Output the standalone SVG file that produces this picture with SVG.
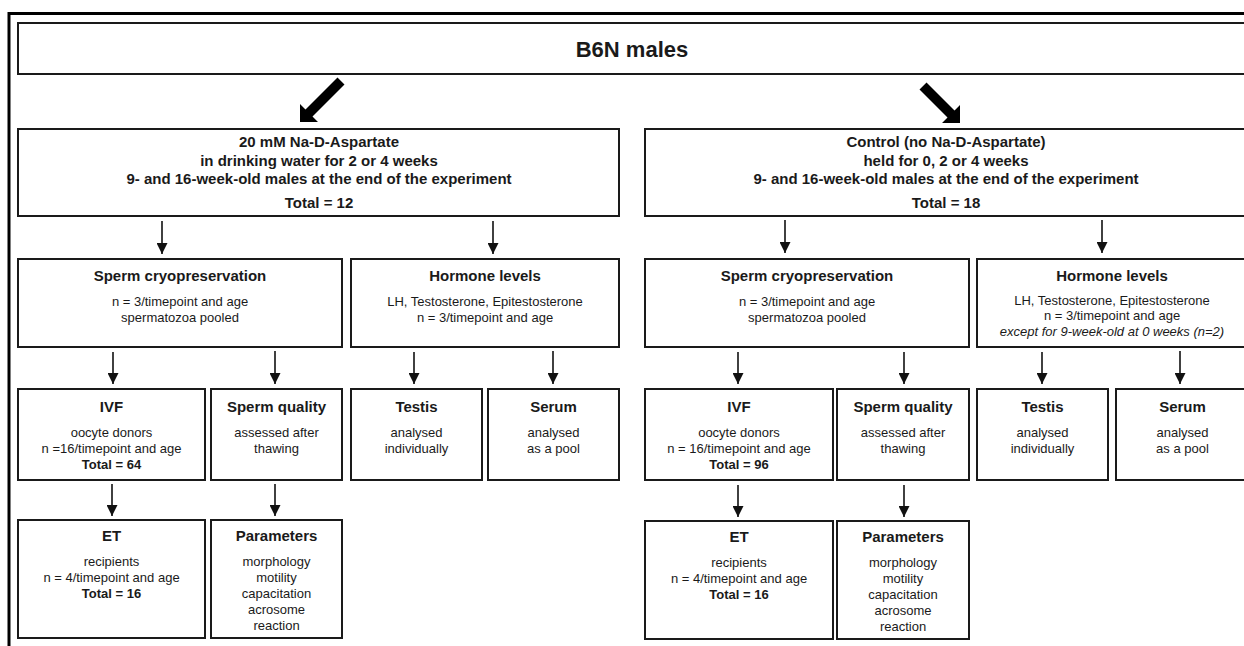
<svg xmlns="http://www.w3.org/2000/svg" width="1244" height="646" viewBox="0 0 1244 646">
<style>
.box{fill:#fff;stroke:#1a1a1a;stroke-width:2}
.t{font-family:"Liberation Sans",Arial,sans-serif;fill:#1a1a1a;text-anchor:middle}
.b15{font-size:15px;font-weight:bold}
.b22{font-size:22px;font-weight:bold}
.r13{font-size:13px}
.b13{font-size:13px;font-weight:bold}
.i13{font-size:13px;font-style:italic}
.con{stroke:#111;stroke-width:1.6;fill:none}
</style>
<defs>
<marker id="ah" markerUnits="userSpaceOnUse" markerWidth="11" markerHeight="11" refX="11" refY="5.5" orient="auto">
<path d="M0,0 L11,5.5 L0,11 z" fill="#111"/>
</marker>
</defs>
<rect width="1244" height="646" fill="#fff"/>
<path d="M9,646 V13.5 H1250" fill="none" stroke="#000" stroke-width="3"/>

<g id="b6n">
<rect class="box" x="18" y="23" width="1240" height="51"/>
<text class="t b22" x="632" y="57">B6N males</text>
</g>

<g id="treat-left">
<rect class="box" x="18" y="129" width="601" height="87"/>
<text class="t b15" x="319" y="147">20 mM Na-D-Aspartate</text>
<text class="t b15" x="319" y="166">in drinking water for 2 or 4 weeks</text>
<text class="t b15" x="319" y="184">9- and 16-week-old males at the end of the experiment</text>
<text class="t b15" x="319" y="208">Total = 12</text>
</g>

<g id="treat-right">
<rect class="box" x="645" y="129" width="610" height="87"/>
<text class="t b15" x="946" y="147">Control (no Na-D-Aspartate)</text>
<text class="t b15" x="946" y="166">held for 0, 2 or 4 weeks</text>
<text class="t b15" x="946" y="184">9- and 16-week-old males at the end of the experiment</text>
<text class="t b15" x="946" y="208">Total = 18</text>
</g>

<g id="cryo-left">
<rect class="box" x="18" y="259" width="324" height="88"/>
<text class="t b15" x="180" y="281">Sperm cryopreservation</text>
<text class="t r13" x="180" y="306">n = 3/timepoint and age</text>
<text class="t r13" x="180" y="322">spermatozoa pooled</text>
</g>

<g id="hormone-left">
<rect class="box" x="351" y="259" width="268" height="88"/>
<text class="t b15" x="485" y="281">Hormone levels</text>
<text class="t r13" x="485" y="306">LH, Testosterone, Epitestosterone</text>
<text class="t r13" x="485" y="322">n = 3/timepoint and age</text>
</g>

<g id="cryo-right">
<rect class="box" x="645" y="259" width="324" height="88"/>
<text class="t b15" x="807" y="281">Sperm cryopreservation</text>
<text class="t r13" x="807" y="306">n = 3/timepoint and age</text>
<text class="t r13" x="807" y="322">spermatozoa pooled</text>
</g>

<g id="hormone-right">
<rect class="box" x="977" y="259" width="280" height="88"/>
<text class="t b15" x="1112" y="281">Hormone levels</text>
<text class="t r13" x="1112" y="305">LH, Testosterone, Epitestosterone</text>
<text class="t r13" x="1112" y="320">n = 3/timepoint and age</text>
<text class="t i13" x="1112" y="336">except for 9-week-old at 0 weeks (n=2)</text>
</g>

<g id="ivf-left">
<rect class="box" x="18" y="389" width="187" height="91"/>
<text class="t b15" x="111.5" y="412">IVF</text>
<text class="t r13" x="111.5" y="437">oocyte donors</text>
<text class="t r13" x="111.5" y="453">n =16/timepoint and age</text>
<text class="t b13" x="111.5" y="469">Total = 64</text>
</g>

<g id="quality-left">
<rect class="box" x="211" y="389" width="131" height="91"/>
<text class="t b15" x="276.5" y="412">Sperm quality</text>
<text class="t r13" x="276.5" y="437">assessed after</text>
<text class="t r13" x="276.5" y="453">thawing</text>
</g>

<g id="testis-left">
<rect class="box" x="351" y="389" width="131" height="91"/>
<text class="t b15" x="416.5" y="412">Testis</text>
<text class="t r13" x="416.5" y="437">analysed</text>
<text class="t r13" x="416.5" y="453">individually</text>
</g>

<g id="serum-left">
<rect class="box" x="488" y="389" width="131" height="91"/>
<text class="t b15" x="553.5" y="412">Serum</text>
<text class="t r13" x="553.5" y="437">analysed</text>
<text class="t r13" x="553.5" y="453">as a pool</text>
</g>

<g id="ivf-right">
<rect class="box" x="645" y="389" width="188" height="91"/>
<text class="t b15" x="739" y="412">IVF</text>
<text class="t r13" x="739" y="437">oocyte donors</text>
<text class="t r13" x="739" y="453">n = 16/timepoint and age</text>
<text class="t b13" x="739" y="469">Total = 96</text>
</g>

<g id="quality-right">
<rect class="box" x="837" y="389" width="132" height="91"/>
<text class="t b15" x="903" y="412">Sperm quality</text>
<text class="t r13" x="903" y="437">assessed after</text>
<text class="t r13" x="903" y="453">thawing</text>
</g>

<g id="testis-right">
<rect class="box" x="977" y="389" width="131" height="91"/>
<text class="t b15" x="1042.5" y="412">Testis</text>
<text class="t r13" x="1042.5" y="437">analysed</text>
<text class="t r13" x="1042.5" y="453">individually</text>
</g>

<g id="serum-right">
<rect class="box" x="1116" y="389" width="140" height="91"/>
<text class="t b15" x="1182.5" y="412">Serum</text>
<text class="t r13" x="1182.5" y="437">analysed</text>
<text class="t r13" x="1182.5" y="453">as a pool</text>
</g>

<g id="et-left">
<rect class="box" x="18" y="520" width="187" height="118"/>
<text class="t b15" x="111.5" y="541">ET</text>
<text class="t r13" x="111.5" y="566">recipients</text>
<text class="t r13" x="111.5" y="582">n = 4/timepoint and age</text>
<text class="t b13" x="111.5" y="598">Total = 16</text>
</g>

<g id="params-left">
<rect class="box" x="211" y="520" width="131" height="118"/>
<text class="t b15" x="276.5" y="541">Parameters</text>
<text class="t r13" x="276.5" y="566">morphology</text>
<text class="t r13" x="276.5" y="582">motility</text>
<text class="t r13" x="276.5" y="598">capacitation</text>
<text class="t r13" x="276.5" y="614">acrosome</text>
<text class="t r13" x="276.5" y="630">reaction</text>
</g>

<g id="et-right">
<rect class="box" x="645" y="521" width="188" height="118"/>
<text class="t b15" x="739" y="542">ET</text>
<text class="t r13" x="739" y="567">recipients</text>
<text class="t r13" x="739" y="583">n = 4/timepoint and age</text>
<text class="t b13" x="739" y="599">Total = 16</text>
</g>

<g id="params-right">
<rect class="box" x="837" y="521" width="132" height="118"/>
<text class="t b15" x="903" y="542">Parameters</text>
<text class="t r13" x="903" y="567">morphology</text>
<text class="t r13" x="903" y="583">motility</text>
<text class="t r13" x="903" y="599">capacitation</text>
<text class="t r13" x="903" y="615">acrosome</text>
<text class="t r13" x="903" y="631">reaction</text>
</g>

<g id="connectors">
<polygon points="300,122 300,104 305.5,109.5 337.5,77.5 344.5,84.5 312.5,116.5 318,122" fill="#000"/>
<polygon points="960,123 960,105 954.5,110.5 926.5,82.5 919.5,89.5 947.5,117.5 942,123" fill="#000"/>
<line class="con" x1="162" y1="221" x2="162" y2="254" marker-end="url(#ah)"/>
<line class="con" x1="493" y1="221" x2="493" y2="254" marker-end="url(#ah)"/>
<line class="con" x1="785" y1="220" x2="785" y2="253" marker-end="url(#ah)"/>
<line class="con" x1="1102" y1="220" x2="1102" y2="253" marker-end="url(#ah)"/>
<line class="con" x1="113" y1="352" x2="113" y2="384" marker-end="url(#ah)"/>
<line class="con" x1="275" y1="351" x2="275" y2="384" marker-end="url(#ah)"/>
<line class="con" x1="414" y1="352" x2="414" y2="384" marker-end="url(#ah)"/>
<line class="con" x1="553" y1="351" x2="553" y2="384" marker-end="url(#ah)"/>
<line class="con" x1="738" y1="352" x2="738" y2="384" marker-end="url(#ah)"/>
<line class="con" x1="904" y1="352" x2="904" y2="384" marker-end="url(#ah)"/>
<line class="con" x1="1042" y1="352" x2="1042" y2="384" marker-end="url(#ah)"/>
<line class="con" x1="1180" y1="351" x2="1180" y2="384" marker-end="url(#ah)"/>
<line class="con" x1="112" y1="484" x2="112" y2="516" marker-end="url(#ah)"/>
<line class="con" x1="275" y1="484" x2="275" y2="516" marker-end="url(#ah)"/>
<line class="con" x1="738" y1="485" x2="738" y2="517" marker-end="url(#ah)"/>
<line class="con" x1="904" y1="485" x2="904" y2="517" marker-end="url(#ah)"/>
</g>
</svg>
